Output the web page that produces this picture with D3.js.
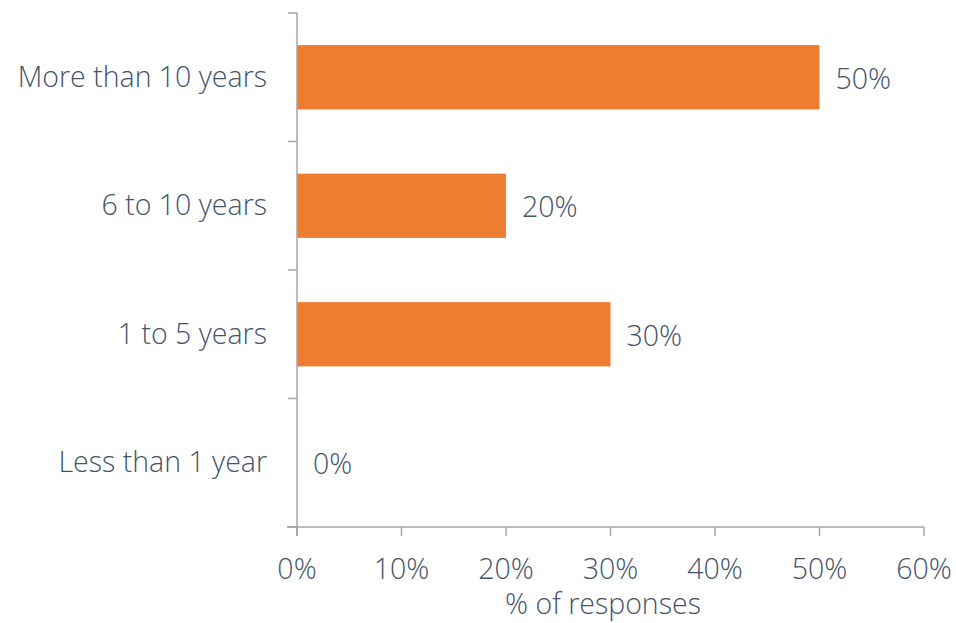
<!DOCTYPE html>
<html><head><meta charset="utf-8">
<script src="https://cdn.jsdelivr.net/npm/d3@7"></script>
<style>body{margin:0;background:#fff}text{font-family:"Open Sans",sans-serif;font-weight:300;fill:#44546a}</style>
</head><body><svg id="c" width="956" height="623"></svg>
<script>
const categories = ["More than 10 years","6 to 10 years","1 to 5 years","Less than 1 year"];
const values = [50,20,30,0];
const xTicks = [0,10,20,30,40,50,60];
const xTitle = "% of responses";

const svg = d3.select("#c");
const m = {left:297, right:924, top:13, bottom:527};
const x = d3.scaleLinear().domain([0,60]).range([m.left,m.right]);
const y = d3.scaleBand().domain(categories).range([m.top,m.bottom]).paddingInner(0.5).paddingOuter(0.25);
const axisColor = "#a6a6a6";
const fs = 28.5;

// bars
svg.selectAll("rect.bar").data(values).join("rect")
  .attr("x", x(0)).attr("y",(d,i)=>y(categories[i]))
  .attr("width", d=>x(d)-x(0)).attr("height", y.bandwidth())
  .attr("fill","#ed7d31");

// value labels
svg.selectAll("text.val").data(values).join("text")
  .attr("x", d=>x(d)+16).attr("y",(d,i)=>y(categories[i])+y.bandwidth()/2+4)
  .attr("dominant-baseline","middle").attr("font-size",fs)
  .text(d=>d+"%");

// y axis
svg.append("line").attr("x1",m.left).attr("x2",m.left).attr("y1",m.top).attr("y2",m.bottom+9).attr("stroke",axisColor).attr("stroke-width",1.5);
const yTickPos = d3.range(categories.length+1).map(i=>m.top + i*(m.bottom-m.top)/categories.length);
svg.selectAll("line.yt").data(yTickPos).join("line")
  .attr("x1",m.left-9).attr("x2",m.left).attr("y1",d=>d).attr("y2",d=>d).attr("stroke",axisColor).attr("stroke-width",1.5);
svg.selectAll("text.cat").data(categories).join("text")
  .attr("x",267).attr("y",d=>y(d)+y.bandwidth()/2+2).attr("text-anchor","end").attr("dominant-baseline","middle")
  .attr("font-size",fs).text(d=>d);

// x axis
svg.append("line").attr("x1",m.left-10).attr("x2",m.right).attr("y1",m.bottom).attr("y2",m.bottom).attr("stroke",axisColor).attr("stroke-width",1.5);
svg.selectAll("line.xt").data(xTicks).join("line")
  .attr("x1",d=>x(d)).attr("x2",d=>x(d)).attr("y1",m.bottom).attr("y2",m.bottom+9).attr("stroke",axisColor).attr("stroke-width",1.5);
svg.selectAll("text.xl").data(xTicks).join("text")
  .attr("x",d=>x(d)).attr("y",579).attr("text-anchor","middle").attr("font-size",fs).text(d=>d+"%");
svg.append("text").attr("x",603).attr("y",614).attr("text-anchor","middle").attr("font-size",fs).text(xTitle);
</script></body></html>
